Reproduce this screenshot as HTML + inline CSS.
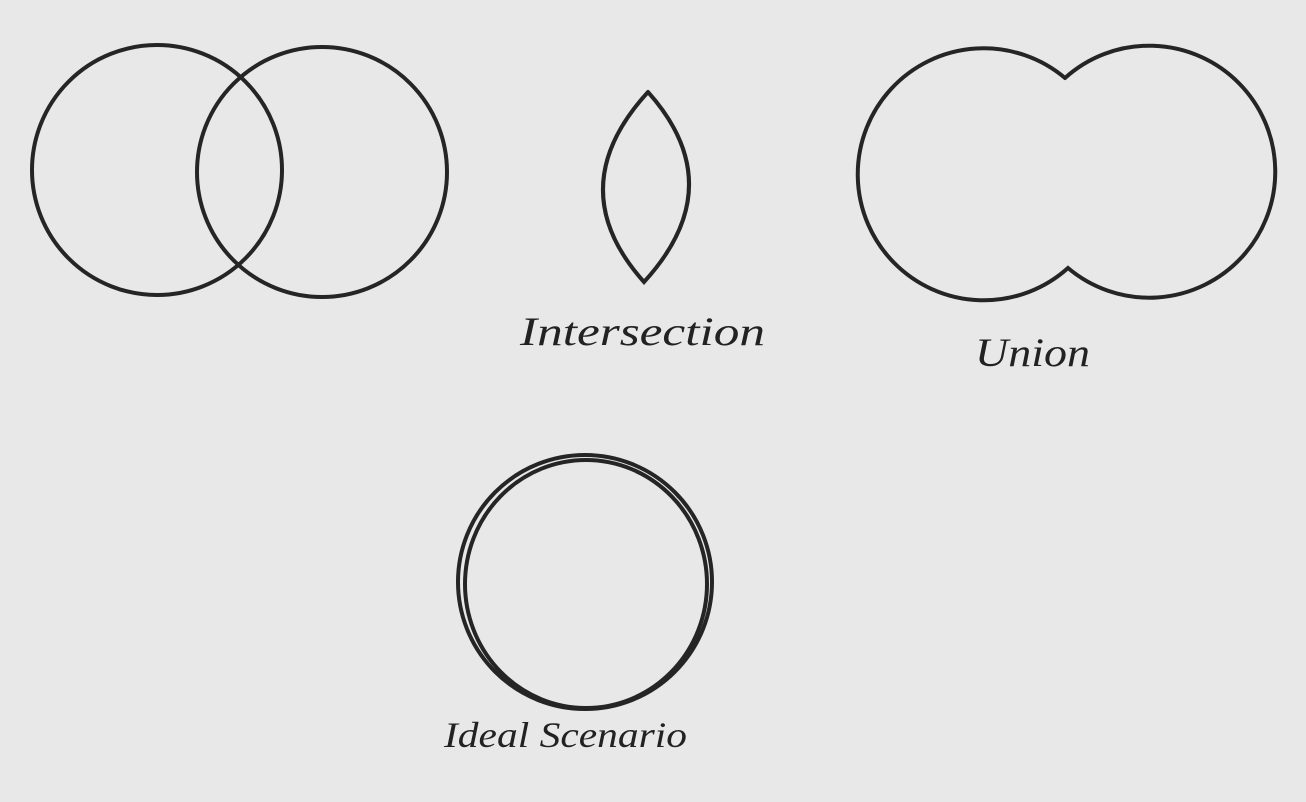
<!DOCTYPE html>
<html><head><meta charset="utf-8"><style>
html,body{margin:0;padding:0;background:#e8e8e8;}
svg{display:block}
text{font-family:"Liberation Serif",serif;font-style:italic;fill:#222;}
</style></head><body>
<svg width="1306" height="802" viewBox="0 0 1306 802">
<rect width="1306" height="802" fill="#e8e8e8"/>
<g fill="none" stroke="#252525" stroke-width="4" stroke-linecap="round">
<circle cx="157" cy="170" r="125"/>
<circle cx="322" cy="172" r="125"/>
<path d="M648,92 Q560,188 644,282 Q732,186 648,92"/>
<path d="M1065,78 A126,126 0 1 0 1068,268 A126,126 0 1 0 1065,78"/>
<circle cx="585" cy="582" r="127"/>
<ellipse cx="586" cy="584" rx="121" ry="124"/>
</g>
<text x="520" y="345" font-size="40" textLength="245" lengthAdjust="spacingAndGlyphs">Intersection</text>
<text x="975" y="366" font-size="40" textLength="115" lengthAdjust="spacingAndGlyphs">Union</text>
<text x="444" y="747" font-size="36" textLength="243" lengthAdjust="spacingAndGlyphs">Ideal Scenario</text>
</svg>
</body></html>
